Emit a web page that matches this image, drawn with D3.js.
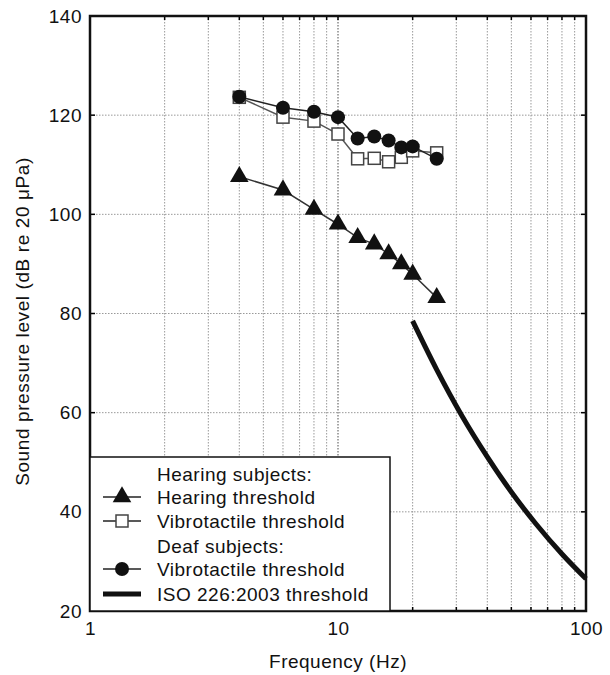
<!DOCTYPE html>
<html>
<head>
<meta charset="utf-8">
<script src="https://cdn.jsdelivr.net/npm/d3@7"></script>
<style>
  html, body { margin: 0; padding: 0; background: #fff; }
  svg { display: block; font-family: "Liberation Sans", Arial, Helvetica, sans-serif; }
</style>
</head>
<body>
<svg id="chart" width="610" height="675"></svg>
<script>
// Test frequencies (Hz)
const freqs = [4, 6, 8, 10, 12, 14, 16, 18, 20, 25];
// Hearing subjects: auditory threshold (dB SPL)
const hearingThreshold = [107.6, 104.9, 101.0, 98.0, 95.3, 94.0, 92.0, 90.0, 87.9, 83.2];
// Hearing subjects: vibrotactile threshold (dB SPL)
const hearingVibro = [123.6, 119.6, 118.8, 116.2, 111.2, 111.3, 110.6, 111.5, 112.8, 112.4];
// Deaf subjects: vibrotactile threshold (dB SPL)
const deafVibro = [123.7, 121.5, 120.7, 119.6, 115.3, 115.7, 114.9, 113.5, 113.7, 111.2];
// ISO 226:2003 hearing threshold
const isoFreqs = [20, 25, 31.5, 40, 50, 63, 80, 100];
const isoLevels = [78.5, 68.7, 59.5, 51.1, 44.0, 37.5, 31.5, 26.5];
// Axis ticks
const xTickLabels = [1, 10, 100];
const yTickLabels = [20, 40, 60, 80, 100, 120, 140];

const svg = d3.select("#chart");
const pL = 90, pR = 586, pT = 16, pB = 611;
const FS = 19, LS = "0.5px";

const x = d3.scaleLog().domain([1, 100]).range([pL, pR]);
const y = d3.scaleLinear().domain([20, 140]).range([pB, pT]);

// minor log positions 2..9, 10, 20..90
const minorX = [];
for (let d = 1; d <= 10; d *= 10) for (let k = 2; k <= 9; k++) minorX.push(d * k);
const gridX = minorX.concat([10]).sort((a, b) => a - b);

const grid = svg.append("g");
grid.selectAll("line.vx").data(gridX).join("line")
  .attr("x1", d => x(d)).attr("x2", d => x(d))
  .attr("y1", pT).attr("y2", pB)
  .attr("stroke", d => d === 10 ? "#777" : "#999")
  .attr("stroke-width", d => d === 10 ? 1.3 : 1)
  .attr("stroke-dasharray", "1.5,1.5");
grid.selectAll("line.hy").data(yTickLabels.filter(v => v > 20 && v < 140)).join("line")
  .attr("x1", pL).attr("x2", pR)
  .attr("y1", d => y(d)).attr("y2", d => y(d))
  .attr("stroke", "#999").attr("stroke-width", 1)
  .attr("stroke-dasharray", "1.5,1.5");

// inward tick marks on all four sides
const ticks = svg.append("g").attr("stroke", "#000").attr("stroke-width", 1.5);
gridX.forEach(f => {
  ticks.append("line").attr("x1", x(f)).attr("x2", x(f)).attr("y1", pB).attr("y2", pB - 4);
  ticks.append("line").attr("x1", x(f)).attr("x2", x(f)).attr("y1", pT).attr("y2", pT + 4);
});
yTickLabels.forEach(v => {
  ticks.append("line").attr("x1", pL).attr("x2", pL + 5).attr("y1", y(v)).attr("y2", y(v));
  ticks.append("line").attr("x1", pR).attr("x2", pR - 5).attr("y1", y(v)).attr("y2", y(v));
});

// axes labels via d3 axes
const xAxis = svg.append("g").attr("transform", `translate(0,${pB})`)
  .call(d3.axisBottom(x).tickValues(xTickLabels).tickSize(0).tickPadding(11).tickFormat(d3.format("d")));
const yAxis = svg.append("g").attr("transform", `translate(${pL},0)`)
  .call(d3.axisLeft(y).tickValues(yTickLabels).tickSize(0).tickPadding(8).tickFormat(d3.format("d")));
[xAxis, yAxis].forEach(g => {
  g.select(".domain").remove();
  g.selectAll("text").attr("font-size", FS).attr("letter-spacing", LS).attr("fill", "#111")
    .attr("font-family", "Liberation Sans, Arial, sans-serif");
});

// series
const pts = vals => freqs.map((f, i) => [x(f), y(vals[i])]);
const line = d3.line();

// ISO curve
svg.append("path")
  .attr("d", d3.line().curve(d3.curveMonotoneX)(isoFreqs.map((f, i) => [x(f), y(isoLevels[i])])))
  .attr("fill", "none").attr("stroke", "#111").attr("stroke-width", 5);

// hearing threshold: triangles
svg.append("path").attr("d", line(pts(hearingThreshold)))
  .attr("fill", "none").attr("stroke", "#333").attr("stroke-width", 1.5);
const tri = d3.symbol().type(d3.symbolTriangle).size(150);
svg.selectAll("path.tri").data(pts(hearingThreshold)).join("path")
  .attr("transform", d => `translate(${d[0]},${d[1]})`)
  .attr("d", tri()).attr("fill", "#111");

// hearing subjects vibrotactile: open squares
svg.append("path").attr("d", line(pts(hearingVibro)))
  .attr("fill", "none").attr("stroke", "#555").attr("stroke-width", 1.5);
svg.selectAll("rect.sq").data(pts(hearingVibro)).join("rect")
  .attr("x", d => d[0] - 6).attr("y", d => d[1] - 6)
  .attr("width", 12).attr("height", 12)
  .attr("fill", "#fff").attr("stroke", "#444").attr("stroke-width", 1.5);

// deaf subjects vibrotactile: filled circles
svg.append("path").attr("d", line(pts(deafVibro)))
  .attr("fill", "none").attr("stroke", "#222").attr("stroke-width", 1.5);
svg.selectAll("circle.dot").data(pts(deafVibro)).join("circle")
  .attr("cx", d => d[0]).attr("cy", d => d[1]).attr("r", 7)
  .attr("fill", "#111");

// frame
svg.append("rect").attr("x", pL).attr("y", pT)
  .attr("width", pR - pL).attr("height", pB - pT)
  .attr("fill", "none").attr("stroke", "#111").attr("stroke-width", 2.5);

// legend
const lg = svg.append("g");
lg.append("rect").attr("x", pL).attr("y", 457).attr("width", 300).attr("height", pB - 457)
  .attr("fill", "#fff").attr("stroke", "#111").attr("stroke-width", 1.5);
const lx1 = 103, lx2 = 141, lxm = 122, tx = 157;
const rows = [
  { label: "Hearing subjects:", y: 474 },
  { label: "Hearing threshold", y: 497, kind: "tri" },
  { label: "Vibrotactile threshold", y: 521, kind: "sq" },
  { label: "Deaf subjects:", y: 546 },
  { label: "Vibrotactile threshold", y: 569, kind: "dot" },
  { label: "ISO 226:2003 threshold", y: 594, kind: "iso" }
];
rows.forEach(r => {
  lg.append("text").attr("x", tx).attr("y", r.y).attr("dy", "0.35em")
    .attr("font-size", FS).attr("letter-spacing", LS).attr("fill", "#111").text(r.label);
  if (r.kind === "iso") {
    lg.append("line").attr("x1", lx1).attr("x2", lx2).attr("y1", r.y).attr("y2", r.y)
      .attr("stroke", "#111").attr("stroke-width", 5);
  } else if (r.kind) {
    lg.append("line").attr("x1", lx1).attr("x2", lx2).attr("y1", r.y).attr("y2", r.y)
      .attr("stroke", "#222").attr("stroke-width", 1.5);
    if (r.kind === "tri") lg.append("path").attr("transform", `translate(${lxm},${r.y})`).attr("d", tri()).attr("fill", "#111");
    if (r.kind === "sq") lg.append("rect").attr("x", lxm - 6).attr("y", r.y - 6).attr("width", 12).attr("height", 12)
      .attr("fill", "#fff").attr("stroke", "#444").attr("stroke-width", 1.5);
    if (r.kind === "dot") lg.append("circle").attr("cx", lxm).attr("cy", r.y).attr("r", 7).attr("fill", "#111");
  }
});

// axis titles
svg.append("text").attr("x", (pL + pR) / 2).attr("y", 668)
  .attr("text-anchor", "middle").attr("font-size", FS).attr("letter-spacing", LS).attr("fill", "#111")
  .text("Frequency (Hz)");
svg.append("text").attr("transform", `translate(29,${(pT + pB) / 2 + 8}) rotate(-90)`)
  .attr("text-anchor", "middle").attr("font-size", FS).attr("letter-spacing", "0.6px").attr("fill", "#111")
  .text("Sound pressure level (dB re 20 μPa)");
</script>
</body>
</html>
